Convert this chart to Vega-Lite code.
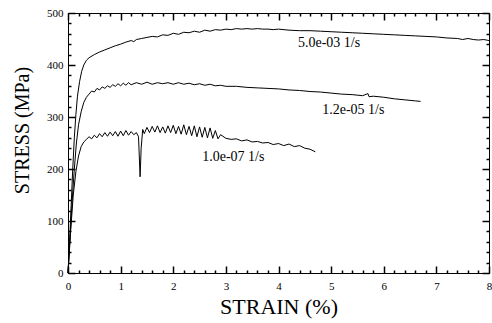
{
  "$schema": "https://vega.github.io/schema/vega-lite/v6.json",
  "width": 421,
  "height": 260,
  "autosize": {"type": "none"},
  "padding": {"left": 68, "top": 13, "right": 3, "bottom": 50},
  "background": "white",
  "config": {
    "view": {"stroke": "black", "strokeWidth": 1},
    "font": "Liberation Serif",
    "axis": {
      "domainColor": "black",
      "tickColor": "black",
      "labelColor": "black",
      "titleColor": "black",
      "labelFont": "Liberation Serif",
      "titleFont": "Liberation Serif",
      "labelFontSize": 11,
      "titleFontSize": 20,
      "titleFontWeight": "normal",
      "grid": false,
      "tickWidth": 1.5,
      "tickOpacity": 1,
      "tickRound": true
    }
  },
  "datasets": {
    "curves": [
      {"s": "a", "x": 0, "y": 0}, {"s": "a", "x": 0.03, "y": 60}, {"s": "a", "x": 0.06, "y": 130}, {"s": "a", "x": 0.09, "y": 200}, {"s": "a", "x": 0.12, "y": 260}, {"s": "a", "x": 0.15, "y": 305}, {"s": "a", "x": 0.18, "y": 340}, {"s": "a", "x": 0.22, "y": 368}, {"s": "a", "x": 0.26, "y": 388}, {"s": "a", "x": 0.3, "y": 400}, {"s": "a", "x": 0.35, "y": 409}, {"s": "a", "x": 0.4, "y": 414}, {"s": "a", "x": 0.5, "y": 420}, {"s": "a", "x": 0.6, "y": 425}, {"s": "a", "x": 0.7, "y": 429}, {"s": "a", "x": 0.8, "y": 433}, {"s": "a", "x": 0.9, "y": 437}, {"s": "a", "x": 1.0, "y": 440}, {"s": "a", "x": 1.1, "y": 444}, {"s": "a", "x": 1.2, "y": 447}, {"s": "a", "x": 1.25, "y": 445}, {"s": "a", "x": 1.3, "y": 449}, {"s": "a", "x": 1.4, "y": 451}, {"s": "a", "x": 1.5, "y": 453}, {"s": "a", "x": 1.6, "y": 455}, {"s": "a", "x": 1.7, "y": 454}, {"s": "a", "x": 1.8, "y": 458}, {"s": "a", "x": 1.9, "y": 457}, {"s": "a", "x": 2.0, "y": 461}, {"s": "a", "x": 2.1, "y": 459}, {"s": "a", "x": 2.2, "y": 463}, {"s": "a", "x": 2.3, "y": 462}, {"s": "a", "x": 2.4, "y": 465}, {"s": "a", "x": 2.5, "y": 463}, {"s": "a", "x": 2.6, "y": 467}, {"s": "a", "x": 2.7, "y": 465}, {"s": "a", "x": 2.8, "y": 468}, {"s": "a", "x": 2.9, "y": 467}, {"s": "a", "x": 3.0, "y": 469}, {"s": "a", "x": 3.1, "y": 468}, {"s": "a", "x": 3.2, "y": 470}, {"s": "a", "x": 3.3, "y": 469}, {"s": "a", "x": 3.4, "y": 470}, {"s": "a", "x": 3.5, "y": 469}, {"s": "a", "x": 3.6, "y": 470}, {"s": "a", "x": 3.7, "y": 469}, {"s": "a", "x": 3.8, "y": 469}, {"s": "a", "x": 3.9, "y": 468}, {"s": "a", "x": 4.0, "y": 469}, {"s": "a", "x": 4.2, "y": 467}, {"s": "a", "x": 4.4, "y": 466}, {"s": "a", "x": 4.6, "y": 466}, {"s": "a", "x": 4.8, "y": 465}, {"s": "a", "x": 5.0, "y": 464}, {"s": "a", "x": 5.2, "y": 463}, {"s": "a", "x": 5.4, "y": 462}, {"s": "a", "x": 5.6, "y": 461}, {"s": "a", "x": 5.8, "y": 460}, {"s": "a", "x": 6.0, "y": 459}, {"s": "a", "x": 6.2, "y": 458}, {"s": "a", "x": 6.4, "y": 457}, {"s": "a", "x": 6.6, "y": 456}, {"s": "a", "x": 6.8, "y": 455}, {"s": "a", "x": 7.0, "y": 454}, {"s": "a", "x": 7.2, "y": 452}, {"s": "a", "x": 7.4, "y": 451}, {"s": "a", "x": 7.5, "y": 449}, {"s": "a", "x": 7.6, "y": 451}, {"s": "a", "x": 7.7, "y": 449}, {"s": "a", "x": 7.8, "y": 448}, {"s": "a", "x": 7.9, "y": 449}, {"s": "a", "x": 8.0, "y": 447},
      {"s": "b", "x": 0, "y": 0}, {"s": "b", "x": 0.04, "y": 70}, {"s": "b", "x": 0.08, "y": 140}, {"s": "b", "x": 0.12, "y": 200}, {"s": "b", "x": 0.16, "y": 250}, {"s": "b", "x": 0.2, "y": 285}, {"s": "b", "x": 0.25, "y": 310}, {"s": "b", "x": 0.3, "y": 328}, {"s": "b", "x": 0.35, "y": 338}, {"s": "b", "x": 0.4, "y": 344}, {"s": "b", "x": 0.45, "y": 350}, {"s": "b", "x": 0.5, "y": 348}, {"s": "b", "x": 0.55, "y": 355}, {"s": "b", "x": 0.6, "y": 352}, {"s": "b", "x": 0.65, "y": 358}, {"s": "b", "x": 0.7, "y": 355}, {"s": "b", "x": 0.75, "y": 360}, {"s": "b", "x": 0.8, "y": 357}, {"s": "b", "x": 0.85, "y": 362}, {"s": "b", "x": 0.9, "y": 359}, {"s": "b", "x": 0.95, "y": 364}, {"s": "b", "x": 1.0, "y": 360}, {"s": "b", "x": 1.05, "y": 365}, {"s": "b", "x": 1.1, "y": 361}, {"s": "b", "x": 1.15, "y": 366}, {"s": "b", "x": 1.2, "y": 362}, {"s": "b", "x": 1.3, "y": 366}, {"s": "b", "x": 1.4, "y": 363}, {"s": "b", "x": 1.5, "y": 367}, {"s": "b", "x": 1.6, "y": 363}, {"s": "b", "x": 1.7, "y": 366}, {"s": "b", "x": 1.8, "y": 364}, {"s": "b", "x": 1.9, "y": 366}, {"s": "b", "x": 2.0, "y": 363}, {"s": "b", "x": 2.1, "y": 366}, {"s": "b", "x": 2.2, "y": 363}, {"s": "b", "x": 2.3, "y": 365}, {"s": "b", "x": 2.4, "y": 362}, {"s": "b", "x": 2.5, "y": 364}, {"s": "b", "x": 2.6, "y": 361}, {"s": "b", "x": 2.7, "y": 363}, {"s": "b", "x": 2.8, "y": 360}, {"s": "b", "x": 2.9, "y": 361}, {"s": "b", "x": 3.0, "y": 359}, {"s": "b", "x": 3.2, "y": 359}, {"s": "b", "x": 3.4, "y": 357}, {"s": "b", "x": 3.6, "y": 356}, {"s": "b", "x": 3.8, "y": 355}, {"s": "b", "x": 4.0, "y": 354}, {"s": "b", "x": 4.2, "y": 352}, {"s": "b", "x": 4.4, "y": 351}, {"s": "b", "x": 4.6, "y": 349}, {"s": "b", "x": 4.8, "y": 348}, {"s": "b", "x": 5.0, "y": 346}, {"s": "b", "x": 5.2, "y": 344}, {"s": "b", "x": 5.4, "y": 343}, {"s": "b", "x": 5.6, "y": 341}, {"s": "b", "x": 5.7, "y": 345}, {"s": "b", "x": 5.72, "y": 339}, {"s": "b", "x": 5.8, "y": 340}, {"s": "b", "x": 6.0, "y": 338}, {"s": "b", "x": 6.2, "y": 335}, {"s": "b", "x": 6.4, "y": 333}, {"s": "b", "x": 6.6, "y": 331}, {"s": "b", "x": 6.7, "y": 330},
      {"s": "c", "x": 0, "y": 0}, {"s": "c", "x": 0.05, "y": 80}, {"s": "c", "x": 0.1, "y": 150}, {"s": "c", "x": 0.15, "y": 195}, {"s": "c", "x": 0.2, "y": 225}, {"s": "c", "x": 0.25, "y": 243}, {"s": "c", "x": 0.3, "y": 252}, {"s": "c", "x": 0.35, "y": 257}, {"s": "c", "x": 0.4, "y": 262}, {"s": "c", "x": 0.45, "y": 258}, {"s": "c", "x": 0.5, "y": 265}, {"s": "c", "x": 0.55, "y": 260}, {"s": "c", "x": 0.6, "y": 268}, {"s": "c", "x": 0.65, "y": 262}, {"s": "c", "x": 0.7, "y": 270}, {"s": "c", "x": 0.75, "y": 263}, {"s": "c", "x": 0.8, "y": 271}, {"s": "c", "x": 0.85, "y": 264}, {"s": "c", "x": 0.9, "y": 272}, {"s": "c", "x": 0.95, "y": 263}, {"s": "c", "x": 1.0, "y": 273}, {"s": "c", "x": 1.05, "y": 264}, {"s": "c", "x": 1.1, "y": 274}, {"s": "c", "x": 1.15, "y": 265}, {"s": "c", "x": 1.2, "y": 272}, {"s": "c", "x": 1.25, "y": 266}, {"s": "c", "x": 1.3, "y": 270}, {"s": "c", "x": 1.34, "y": 262}, {"s": "c", "x": 1.37, "y": 185}, {"s": "c", "x": 1.39, "y": 240}, {"s": "c", "x": 1.42, "y": 276}, {"s": "c", "x": 1.45, "y": 268}, {"s": "c", "x": 1.5, "y": 280}, {"s": "c", "x": 1.55, "y": 270}, {"s": "c", "x": 1.6, "y": 282}, {"s": "c", "x": 1.65, "y": 271}, {"s": "c", "x": 1.7, "y": 283}, {"s": "c", "x": 1.75, "y": 270}, {"s": "c", "x": 1.8, "y": 281}, {"s": "c", "x": 1.85, "y": 269}, {"s": "c", "x": 1.9, "y": 283}, {"s": "c", "x": 1.95, "y": 270}, {"s": "c", "x": 2.0, "y": 284}, {"s": "c", "x": 2.05, "y": 268}, {"s": "c", "x": 2.1, "y": 282}, {"s": "c", "x": 2.15, "y": 267}, {"s": "c", "x": 2.2, "y": 285}, {"s": "c", "x": 2.25, "y": 266}, {"s": "c", "x": 2.3, "y": 282}, {"s": "c", "x": 2.35, "y": 264}, {"s": "c", "x": 2.4, "y": 283}, {"s": "c", "x": 2.45, "y": 262}, {"s": "c", "x": 2.5, "y": 281}, {"s": "c", "x": 2.55, "y": 261}, {"s": "c", "x": 2.6, "y": 280}, {"s": "c", "x": 2.65, "y": 260}, {"s": "c", "x": 2.7, "y": 279}, {"s": "c", "x": 2.75, "y": 259}, {"s": "c", "x": 2.8, "y": 274}, {"s": "c", "x": 2.85, "y": 258}, {"s": "c", "x": 2.9, "y": 266}, {"s": "c", "x": 3.0, "y": 259}, {"s": "c", "x": 3.1, "y": 257}, {"s": "c", "x": 3.2, "y": 258}, {"s": "c", "x": 3.3, "y": 254}, {"s": "c", "x": 3.4, "y": 256}, {"s": "c", "x": 3.5, "y": 252}, {"s": "c", "x": 3.6, "y": 253}, {"s": "c", "x": 3.7, "y": 250}, {"s": "c", "x": 3.8, "y": 251}, {"s": "c", "x": 3.9, "y": 247}, {"s": "c", "x": 4.0, "y": 249}, {"s": "c", "x": 4.1, "y": 245}, {"s": "c", "x": 4.2, "y": 248}, {"s": "c", "x": 4.3, "y": 243}, {"s": "c", "x": 4.4, "y": 245}, {"s": "c", "x": 4.5, "y": 240}, {"s": "c", "x": 4.6, "y": 238}, {"s": "c", "x": 4.7, "y": 233}
    ],
    "labels": [
      {"x": 4.37, "y": 442, "label": "5.0e-03 1/s"},
      {"x": 4.83, "y": 313, "label": "1.2e-05 1/s"},
      {"x": 2.55, "y": 224, "label": "1.0e-07 1/s"}
    ]
  },
  "layer": [
    {
      "data": {"name": "curves"},
      "mark": {"type": "line", "color": "black", "strokeWidth": 1},
      "encoding": {
        "x": {
          "field": "x", "type": "quantitative",
          "scale": {"domain": [0, 8], "nice": false},
          "title": "STRAIN (%)",
          "axis": {"orient": "bottom", "values": [0,1,2,3,4,5,6,7,8], "format": "d", "tickSize": -7, "labelPadding": 14, "labelFlush": false, "titleY": 40, "titleBaseline": "alphabetic", "titleFontSize": 22}
        },
        "y": {
          "field": "y", "type": "quantitative",
          "scale": {"domain": [0, 500], "nice": false},
          "title": "STRESS (MPa)",
          "axis": {"orient": "left", "values": [0,100,200,300,400,500], "tickSize": -7, "labelPadding": 12, "labelFlush": false, "titleX": -40, "titleY": 117, "titleBaseline": "alphabetic", "titleFontSize": 20}
        },
        "detail": {"field": "s"}
      }
    },
    {
      "data": {"name": "labels"},
      "mark": {"type": "text", "align": "left", "baseline": "middle", "font": "Liberation Serif", "fontSize": 14, "color": "black"},
      "encoding": {
        "x": {"field": "x", "type": "quantitative", "axis": {"orient": "top", "title": null, "labels": false, "domain": false, "tickSize": -7, "values": [0,1,2,3,4,5,6,7,8]}},
        "y": {"field": "y", "type": "quantitative", "axis": {"orient": "right", "title": null, "labels": false, "domain": false, "tickSize": -7, "values": [0,100,200,300,400,500]}},
        "text": {"field": "label"}
      }
    },
    {
      "data": {"name": "labels"},
      "mark": {"type": "point", "opacity": 0},
      "encoding": {
        "x": {"field": "x", "type": "quantitative", "axis": {"orient": "bottom", "title": null, "labels": false, "domain": false, "tickSize": -3, "values": [0.2,0.4,0.6,0.8,1.2,1.4,1.6,1.8,2.2,2.4,2.6,2.8,3.2,3.4,3.6,3.8,4.2,4.4,4.6,4.8,5.2,5.4,5.6,5.8,6.2,6.4,6.6,6.8,7.2,7.4,7.6,7.8]}},
        "y": {"field": "y", "type": "quantitative", "axis": {"orient": "left", "title": null, "labels": false, "domain": false, "tickSize": -3, "values": [20,40,60,80,120,140,160,180,220,240,260,280,320,340,360,380,420,440,460,480]}}
      }
    },
    {
      "data": {"name": "labels"},
      "mark": {"type": "point", "opacity": 0},
      "encoding": {
        "x": {"field": "x", "type": "quantitative", "axis": {"orient": "top", "title": null, "labels": false, "domain": false, "tickSize": -3, "values": [0.2,0.4,0.6,0.8,1.2,1.4,1.6,1.8,2.2,2.4,2.6,2.8,3.2,3.4,3.6,3.8,4.2,4.4,4.6,4.8,5.2,5.4,5.6,5.8,6.2,6.4,6.6,6.8,7.2,7.4,7.6,7.8]}},
        "y": {"field": "y", "type": "quantitative", "axis": {"orient": "right", "title": null, "labels": false, "domain": false, "tickSize": -3, "values": [20,40,60,80,120,140,160,180,220,240,260,280,320,340,360,380,420,440,460,480]}}
      }
    }
  ],
  "resolve": {"axis": {"x": "independent", "y": "independent"}}
}
